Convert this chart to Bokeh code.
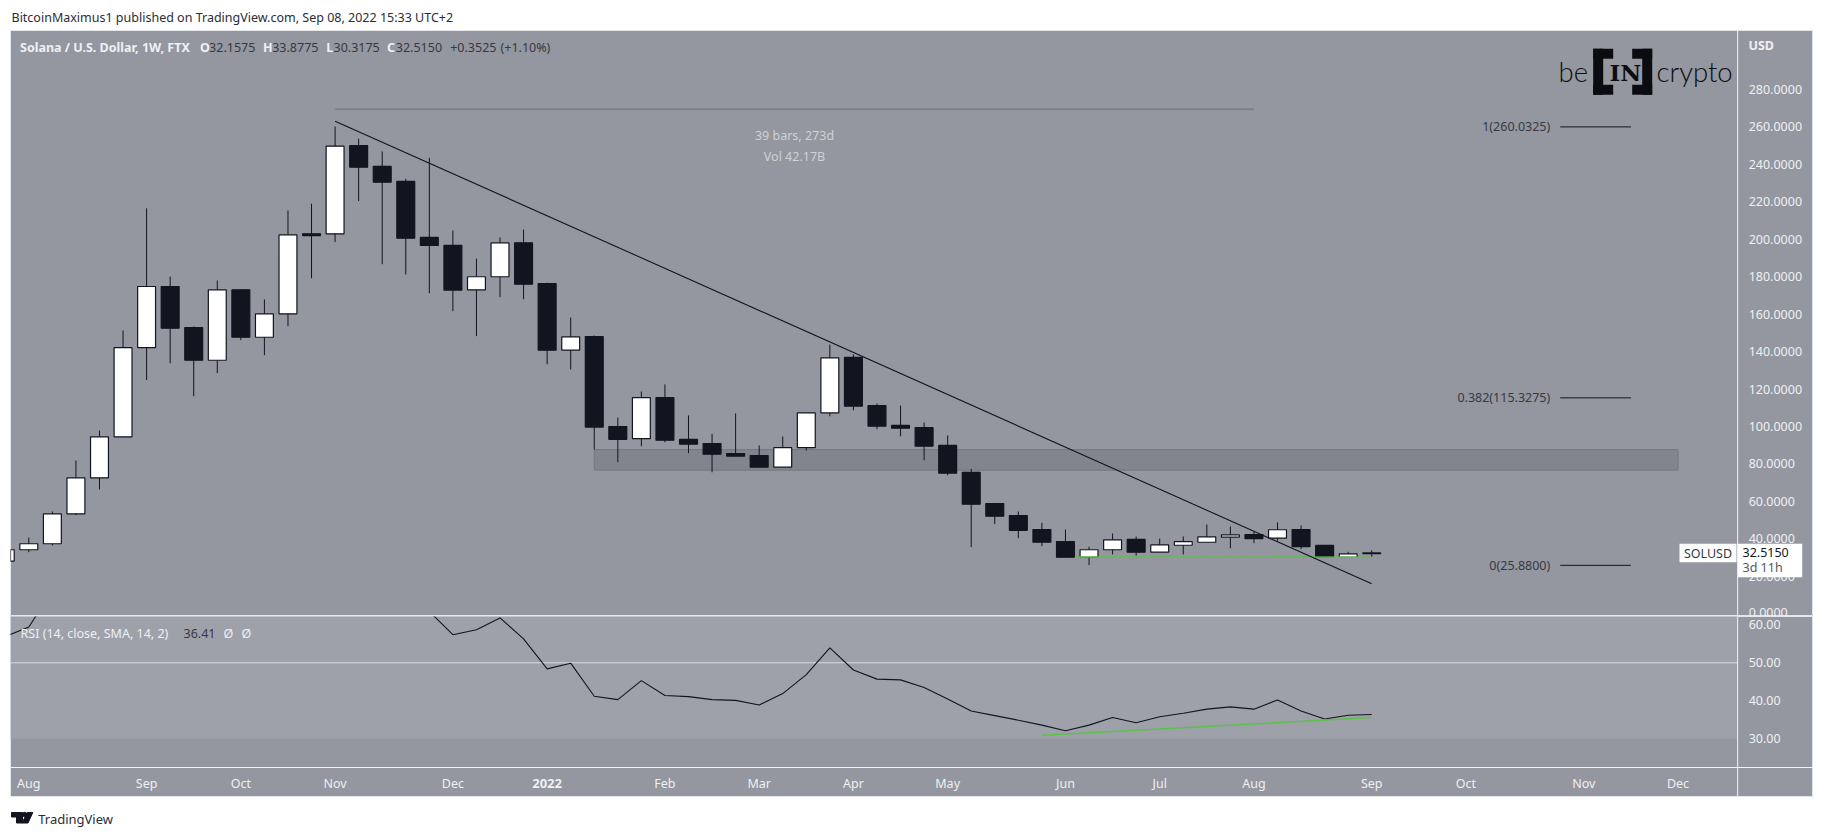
from bokeh.embed import file_html
from bokeh.layouts import column
from bokeh.models import BoxAnnotation, FixedTicker, Label, NumeralTickFormatter, Range1d, Span
from bokeh.plotting import figure
from bokeh.resources import INLINE

# weekly candles (bar index = week)
opens = [28.1, 34.2, 37.4, 53.4, 72.6, 94.5, 142.1, 174.8, 152.9, 135.4, 173.0, 147.7, 160.2, 202.9, 202.9,
         250.1, 238.9, 230.9, 201.0, 196.7, 173.0, 180.0, 198.1, 176.4, 140.8, 148.1, 100.0, 93.5, 115.5, 93.1,
         90.9, 85.6, 84.5, 78.3, 88.7, 107.3, 136.9, 111.2, 100.6, 99.5, 89.9, 75.5, 58.9, 52.5, 45.0,
         38.6, 30.2, 34.2, 39.7, 32.9, 36.6, 38.2, 40.9, 42.3, 40.4, 45.0, 36.5, 30.2, 32.16]
highs = [34.6, 40.7, 54.6, 81.9, 97.9, 151.3, 216.5, 180.1, 153.4, 178.0, 173.2, 167.9, 215.4, 219.0, 260.2,
         253.7, 246.9, 232.3, 243.5, 204.7, 189.7, 201.0, 205.2, 176.8, 158.2, 148.6, 104.8, 118.7, 122.5, 105.9,
         96.1, 107.0, 89.9, 94.7, 107.3, 143.8, 138.5, 112.3, 111.2, 102.2, 95.2, 77.4, 58.9, 54.6, 48.6,
         45.0, 35.8, 42.9, 41.3, 40.2, 41.3, 47.7, 46.6, 43.8, 48.8, 47.2, 36.5, 33.1, 33.88]
lows = [27.5, 32.9, 36.5, 52.7, 66.4, 94.5, 124.8, 133.8, 116.2, 128.5, 146.1, 138.1, 153.6, 179.2, 198.5,
        220.4, 186.7, 181.2, 171.2, 161.6, 148.3, 169.1, 168.0, 133.3, 130.5, 87.7, 81.0, 89.5, 91.6, 85.8,
        75.6, 84.2, 78.3, 78.3, 87.2, 105.5, 108.7, 98.6, 94.8, 82.0, 74.0, 35.6, 47.9, 40.4, 36.1,
        30.2, 26.0, 31.7, 31.1, 32.9, 31.7, 38.2, 35.0, 37.7, 39.1, 34.5, 30.1, 30.2, 30.32]
closes = [34.2, 37.4, 53.4, 72.6, 94.5, 142.1, 174.8, 152.5, 135.4, 173.0, 147.7, 160.2, 202.4, 202.0, 249.7,
          238.5, 230.5, 200.6, 196.7, 172.9, 180.0, 198.1, 176.0, 140.8, 147.9, 99.7, 93.2, 115.4, 92.7, 90.6,
          85.2, 84.2, 78.3, 88.7, 107.3, 136.7, 110.9, 100.2, 99.1, 89.5, 75.1, 58.5, 52.1, 44.6, 38.2,
          30.2, 34.2, 39.5, 32.9, 36.8, 38.5, 41.1, 42.2, 40.2, 44.9, 35.9, 30.1, 32.0, 32.52]

# the pane clips everything above about 62, so bars 2 to 18 are rough estimates
rsi = [56.9, 59.4, 69.0, 74.0, 77.0, 83.0, 85.0, 81.0, 77.0, 81.0, 78.0, 77.0, 80.0, 80.0, 84.0, 80.0, 75.0,
       69.0, 63.5, 57.4, 58.7, 61.8, 56.3, 48.4, 49.9, 41.2, 40.3, 45.3, 41.4, 41.1, 40.3, 40.1, 38.9, 41.9,
       46.9, 53.9, 48.1, 45.7, 45.5, 43.5, 40.5, 37.3, 36.1, 34.9, 33.6, 32.1, 33.6, 35.6, 34.2, 35.8, 36.7,
       37.8, 38.4, 37.8, 40.2, 37.3, 35.2, 36.2, 36.41]

trend_x = [14, 58]
trend_y = [263.1, 16.0]
support_x = [45.4, 58]
support_y = [30.4, 30.2]
rsi_support_x = [44, 58]
rsi_support_y = [30.9, 35.6]
measure_x = [14, 53]
measure_y = [269.5, 269.5]
zone_x = [25, 71]
zone_y = [76.7, 87.7]
fib_x = [66, 69]
fib_levels = [260.0325, 115.3275, 25.88]
fib_labels = ["1(260.0325)", "0.382(115.3275)", "0(25.8800)"]

price_ticks = [0, 20, 40, 60, 80, 100, 120, 140, 160, 180, 200, 220, 240, 260, 280]
rsi_ticks = [30, 40, 50, 60]
month_ticks = {1: "Aug", 6: "Sep", 10: "Oct", 14: "Nov", 19: "Dec", 23: "", 28: "Feb", 32: "Mar", 36: "Apr",
               40: "May", 45: "Jun", 49: "Jul", 53: "Aug", 58: "Sep", 62: "Oct", 67: "Nov", 71: "Dec"}

PANE = "#94979f"
RSI_BAND = "#9ea1a9"
INK = "#12151f"
LIGHT = "#eff0f3"
DIM = "#363944"
FRAME = "#e4e6ea"
GREEN = "#5cc14a"
LOGO = "#0b0c10"
FONT = "Noto Sans"
AXIS_FONT = "Noto Sans Medium, Noto Sans"
WIDTH = 1803
X_RANGE = (0.223, 76.75)
AXIS_AT = 73.53  # bar position of the price scale's left edge
MARGIN = (0, 0, 0, 10)


def text(fig, s, x, y, color=LIGHT, size="12.5px", style="normal", align="left", font=FONT):
    fig.add_layout(Label(x=x, y=y, x_units="canvas", y_units="canvas", text=s, text_color=color,
                         text_font=font, text_font_size=size, text_font_style=style, text_align=align,
                         text_baseline="middle"))


def box(fig, left, right, top, bottom, color):
    fig.add_layout(BoxAnnotation(left=left, right=right, top=top, bottom=bottom, left_units="canvas",
                                 right_units="canvas", top_units="canvas", bottom_units="canvas",
                                 fill_color=color, fill_alpha=1, line_color=None))


def strip(height):
    fig = figure(width=WIDTH, height=height, output_backend="svg", toolbar_location=None, margin=MARGIN,
                 x_range=(0, WIDTH), y_range=(height, 0), x_axis_location=None, y_axis_location=None,
                 min_border=0, outline_line_color=None)
    fig.grid.visible = False
    return fig


def style_right_axis(fig, ticks, fmt):
    ax = fig.yaxis[0]
    ax.fixed_location = AXIS_AT
    ax.ticker = FixedTicker(ticks=ticks)
    ax.formatter = NumeralTickFormatter(format=fmt)
    ax.axis_line_color = None
    ax.major_tick_line_color = None
    ax.minor_tick_line_color = None
    ax.major_tick_out = 0
    ax.major_label_standoff = 11
    ax.major_label_text_color = LIGHT
    ax.major_label_text_font = AXIS_FONT
    ax.major_label_text_font_size = "12.5px"
    fig.add_layout(Span(location=AXIS_AT, dimension="height", line_color="#f2f3f5", line_width=1))


header = strip(30)
text(header, "BitcoinMaximus1 published on TradingView.com, Sep 08, 2022 15:33 UTC+2", 1, 17, color="#2a2e39")

price = figure(width=WIDTH, height=586, output_backend="svg", toolbar_location=None, margin=MARGIN,
               x_range=Range1d(*X_RANGE), y_range=Range1d(-1.44, 311.5), x_axis_location=None,
               y_axis_location="right", min_border=0, background_fill_color=PANE, border_fill_color=PANE,
               outline_line_color=FRAME)
price.grid.visible = False
style_right_axis(price, price_ticks, "0.0000")

bars = list(range(len(opens)))
up = [i for i in bars if closes[i] >= opens[i]]
down = [i for i in bars if closes[i] < opens[i]]

price.quad(left=zone_x[0], right=zone_x[1], bottom=zone_y[0], top=zone_y[1], fill_color="#82858d",
           line_color="#75787f", line_width=1)
price.segment(bars, lows, bars, highs, color=INK, line_width=1)
price.vbar(x=[bars[i] for i in up], bottom=[opens[i] for i in up], top=[closes[i] for i in up], width=0.76,
           fill_color="white", line_color=INK, line_width=1.2)
price.vbar(x=[bars[i] for i in down], bottom=[closes[i] for i in down], top=[opens[i] for i in down], width=0.76,
           fill_color=INK, line_color=INK, line_width=1.2)
price.line(measure_x, measure_y, color="#7e8189", line_width=2)
price.line(support_x, support_y, color=GREEN, line_width=1.5)
price.line(trend_x, trend_y, color=INK, line_width=1.1)
for level, name in zip(fib_levels, fib_labels):
    price.line(fib_x, [level, level], color=INK, line_width=1)
    price.add_layout(Label(x=fib_x[0], y=level, x_offset=-10, text=name, text_color=DIM, text_font=FONT,
                           text_font_size="12.5px", text_align="right", text_baseline="middle"))
mid = (measure_x[0] + measure_x[1]) / 2
price.add_layout(Label(x=mid, y=255.4, text="39 bars, 273d", text_color="#cfd1d6", text_font=FONT,
                       text_font_size="12.5px", text_align="center", text_baseline="middle"))
price.add_layout(Label(x=mid, y=244.2, text="Vol 42.17B", text_color="#cfd1d6", text_font=FONT,
                       text_font_size="12.5px", text_align="center", text_baseline="middle"))

# legend row
text(price, "Solana / U.S. Dollar, 1W, FTX", 9.5, 16.5, style="bold")
for letter, x_l, value, x_v in [("O", 189.4, "32.1575", 198.6), ("H", 252.5, "33.8775", 261.7),
                                ("L", 315.7, "30.3175", 323), ("C", 376.5, "32.5150", 385.3)]:
    text(price, letter, x_l, 16.5, style="bold")
    text(price, value, x_v, 16.5, color=DIM)
text(price, "+0.3525", 439.7, 16.5, color=DIM)
text(price, "(+1.10%)", 490, 16.5, color=DIM)
text(price, "USD", 1738, 14.5, style="bold")

# logo
for l, r, t, b in [(1582.7, 1592.7, 18.3, 64.3), (1582.7, 1602.7, 18.3, 28.3), (1582.7, 1602.7, 54.3, 64.3),
                   (1631.7, 1641.7, 18.3, 64.3), (1621.7, 1641.7, 18.3, 28.3), (1621.7, 1641.7, 54.3, 64.3)]:
    box(price, l, r, t, b, LOGO)
text(price, "be", 1548, 41, color=LOGO, size="27.5px", font="Lato Light, Lato")
text(price, "IN", 1615, 42, color=LOGO, size="23px", style="bold", align="center", font="DejaVu Serif")
text(price, "crypto", 1646, 41, color=LOGO, size="27.5px", font="Lato Light, Lato")

# last price tags
box(price, 1669, 1726, 513.3, 531.7, "white")
box(price, 1727.3, 1791.7, 513.3, 546.7, "white")
text(price, "SOLUSD", 1697.5, 522.5, color=DIM, align="center")
text(price, "32.5150", 1732, 522.3, color=INK)
text(price, "3d 11h", 1732, 537.3, color="#555862")

osc = figure(width=WIDTH, height=181, output_backend="svg", toolbar_location=None, margin=MARGIN,
             x_range=Range1d(*X_RANGE), y_range=Range1d(14.55, 62.18), y_axis_location="right",
             x_axis_location="below", min_border=0, background_fill_color=PANE, border_fill_color=PANE,
             outline_line_color=FRAME)
osc.grid.visible = False
style_right_axis(osc, rsi_ticks, "0.00")
osc.add_layout(BoxAnnotation(left=X_RANGE[0], right=AXIS_AT, bottom=30, top=70, fill_color=RSI_BAND, fill_alpha=1,
                             line_color=None, level="underlay"))
osc.line([X_RANGE[0], AXIS_AT], [50, 50], color="#d9dbe0", line_width=1)
osc.line(bars, rsi, color=INK, line_width=1.1)
osc.line(rsi_support_x, rsi_support_y, color=GREEN, line_width=1.5)
text(osc, "RSI (14, close, SMA, 14, 2)", 10, 17, font=AXIS_FONT)
text(osc, "36.41", 173, 17, color=DIM)
text(osc, "\u00d8", 213, 17, color=LIGHT)
text(osc, "\u00d8", 231, 17, color=LIGHT)

xax = osc.xaxis[0]
xax.fixed_location = 22.45  # top edge of the time scale
xax.ticker = FixedTicker(ticks=list(month_ticks))
xax.major_label_overrides = month_ticks
xax.axis_line_color = "#f2f3f5"
xax.major_tick_line_color = None
xax.minor_tick_line_color = None
xax.major_tick_out = 0
xax.major_label_standoff = 8
xax.major_label_text_color = LIGHT
xax.major_label_text_font = AXIS_FONT
xax.major_label_text_font_size = "12.5px"
text(osc, "2022", 536.6, 166.7, size="13px", style="bold", align="center")

footer = strip(32)
footer.patch([1, 12, 12, 6, 6, 1], [15, 15, 25.5, 25.5, 19.5, 19.5], color=INK)
footer.patch([22.3, 17.5, 11.5, 16.8], [15, 25.5, 25.5, 15], color=INK)
footer.circle([14.2], [17], radius=2.2, color=INK)
text(footer, "TradingView", 27.7, 21.3, color="#2a2e39", size="13px")

page = column(header, price, osc, footer, spacing=0)
open("out.html", "w").write(file_html(page, INLINE))
